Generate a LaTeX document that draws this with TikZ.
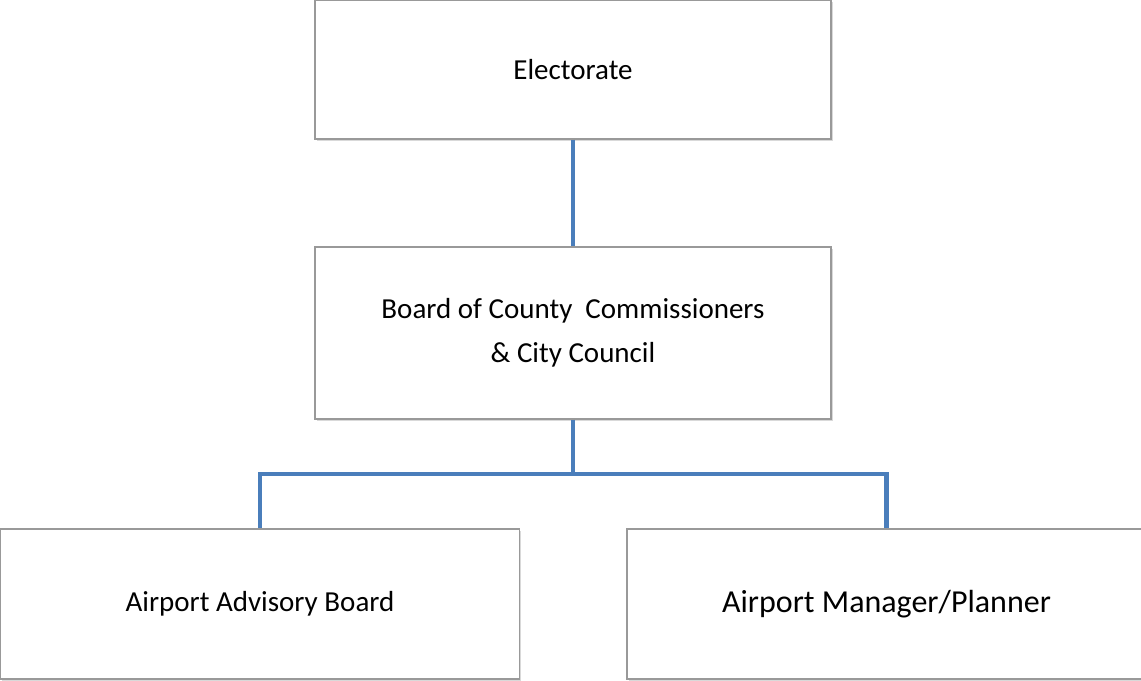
\documentclass[tikz,border=0pt]{standalone}
\usepackage{fontspec}
\setmainfont{Carlito}
\usetikzlibrary{positioning,shadows}

\definecolor{linkblue}{HTML}{4A7EBB}

\begin{document}
\begin{tikzpicture}[
      x=0.75pt, y=-0.75pt,
      box/.style={draw=gray!80, line width=0.8pt, fill=white, align=center,
        inner sep=0pt, minimum width=387pt,
        drop shadow={opacity=0.3, shadow xshift=1.2pt, shadow yshift=-1.5pt},
        font=\fontsize{21.75}{33}\selectfont},
      link/.style={linkblue, line width=3.6pt}
    ]
    \useasboundingbox (0,0) rectangle (1141,681);
    \clip (0,0) rectangle (1141,681);
    \node[box, minimum height=104.25pt] (elect) at (573,69.5) {Electorate};
    \node[box, minimum height=129pt] (board) at (573,333)
      {Board of County~~Commissioners\\\& City Council};
    \node[box, minimum width=389.25pt, minimum height=112.5pt] (advisory) at (260,604)
      {Airport Advisory Board};
    \node[box, minimum width=389.25pt, minimum height=112.5pt,
      font=\fontsize{24}{30}\selectfont] (manager) at (886.5,604)
      {Airport Manager/Planner};
    \coordinate (fork) at (573,474);
    \draw[link] (elect.south) -- (board.north);
    \draw[link] (board.south) -- (fork);
    \draw[link] (fork) -| (advisory.north);
    \draw[link] (fork) -| (manager.north);
  \end{tikzpicture}
\end{document}
